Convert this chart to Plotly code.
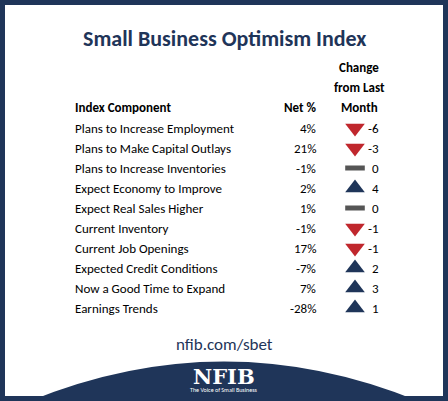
import plotly.graph_objects as go

components = ["Plans to Increase Employment", "Plans to Make Capital Outlays",
              "Plans to Increase Inventories", "Expect Economy to Improve",
              "Expect Real Sales Higher", "Current Inventory", "Current Job Openings",
              "Expected Credit Conditions", "Now a Good Time to Expand", "Earnings Trends"]
net_pct = [4, 21, -1, 2, 1, -1, 17, -7, 7, -28]
change = [-6, -3, 0, 4, 0, -1, -1, 2, 3, 1]

W, H = 448, 401
NAVY = "#1f3559"
FONT = "Calibri, Carlito, 'Open Sans', sans-serif"
ROW0, STEP = 128, 20

def py(p):
    return H - p

fig = go.Figure()
xs, ys, syms, cols = [], [], [], []
for i, c in enumerate(change):
    xs.append(355); ys.append(py(ROW0 + i * STEP))
    if c > 0:
        syms.append("triangle-up"); cols.append(NAVY)
    elif c < 0:
        syms.append("triangle-down"); cols.append("#c0272d")
    else:
        syms.append("line-ew"); cols.append("#555555")
fig.add_trace(go.Scatter(x=xs, y=ys, mode="markers", hoverinfo="skip",
                         marker=dict(symbol=syms, color=cols, opacity=1,
                                     size=[17 if s != "line-ew" else 14 for s in syms],
                                     line=dict(color="#555555", width=[0 if s != "line-ew" else 5 for s in syms]))))

ann = []
def t(x, y, s, size=13, anchor="left", bold=False, color="black", fam=FONT):
    ann.append(dict(x=x, y=py(y), text=f"<b>{s}</b>" if bold else s, showarrow=False,
                    xanchor=anchor, yanchor="middle", font=dict(size=size, color=color, family=fam)))

t(224, 38, "Small Business Optimism Index", 22, "center", True, NAVY)
t(359, 67, "Change", 13, "center", True)
t(359, 87, "from Last", 13, "center", True)
t(359, 107, "Month", 13, "center", True)
t(73, 107, "Index Component", 13, "left", True)
t(318, 107, "Net %", 13, "right", True)
for i, (name, n, c) in enumerate(zip(components, net_pct, change)):
    y = ROW0 + i * STEP
    t(73, y, name)
    t(318, y, f"{n}%", anchor="right")
    t(381, y, str(c), anchor="right")
t(224, 344, "nfib.com/sbet", 17, "center", False, NAVY)
t(224, 376, "<b>NFIB</b>", 21, "center", False, "white", "'DejaVu Serif', serif")
t(224, 390, "The Voice of Small Business", 6, "center", False, "white")

shapes = [
    dict(type="path", xref="x", yref="y",
         path=f"M 30 {py(401)} Q 224 {py(322)} 418 {py(401)} Z",
         fillcolor=NAVY, line=dict(width=0), layer="below"),
    dict(type="rect", xref="x", yref="y", x0=2.5, x1=W - 2.5, y0=py(398.5), y1=py(2.5),
         line=dict(color=NAVY, width=5), fillcolor="rgba(0,0,0,0)"),
]

fig.update_layout(width=W, height=H, margin=dict(l=0, r=0, t=0, b=0),
                  paper_bgcolor="white", plot_bgcolor="white", showlegend=False,
                  xaxis=dict(range=[0, W], visible=False, fixedrange=True),
                  yaxis=dict(range=[0, H], visible=False, fixedrange=True),
                  annotations=ann, shapes=shapes)
fig.write_html("out.html", config={"displayModeBar": False},
               post_script="document.body.style.margin='0';document.body.style.overflow='hidden';")
